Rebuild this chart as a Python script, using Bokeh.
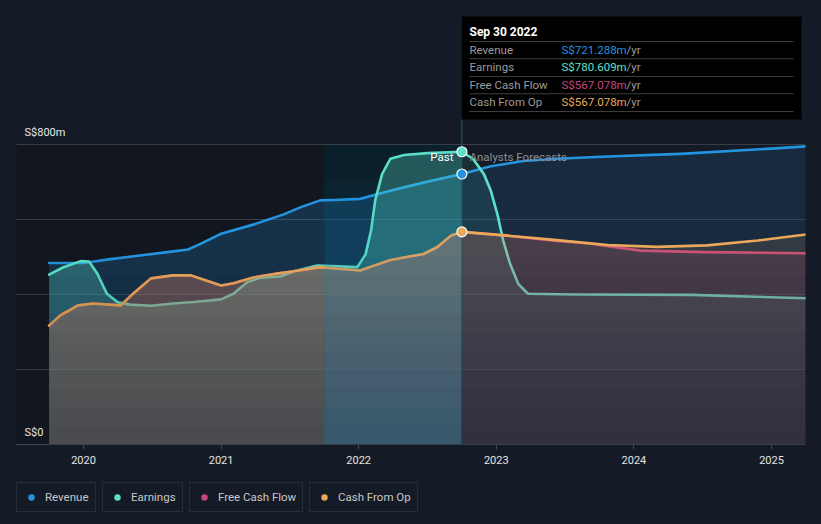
from bokeh.plotting import figure
from bokeh.layouts import column
from bokeh.models import Range1d, FixedTicker, BoxAnnotation, Label, Legend, LegendItem
from bokeh.embed import file_html
from bokeh.resources import INLINE

# ---------------- data (S$ millions, x in decimal years) ----------------
NOW = 2022.75            # Sep 30 2022: last reported point
HIGHLIGHT_START = 2021.75

rev_x = [2019.75, 2020.00, 2020.17, 2020.41, 2020.61, 2020.76, 2020.85, 2021.00, 2021.24,
         2021.45, 2021.58, 2021.72, 2021.82, 2022.01, 2022.16, 2022.30, 2022.50, 2022.75,
         2022.96, 2023.20, 2023.44, 2023.81, 2024.34, 2025.00, 2025.25]
rev_y = [484, 484, 493, 504, 513, 520, 535, 562, 587,
         613, 633, 651, 652, 655, 670, 683, 701, 721.288,
         742, 756, 762, 768, 775, 789, 795]

earn_x = [2019.75, 2019.85, 2019.98, 2020.04, 2020.10, 2020.17, 2020.25, 2020.34, 2020.49,
          2020.65, 2020.80, 2021.00, 2021.09, 2021.19, 2021.29, 2021.43, 2021.53, 2021.70,
          2021.85, 2021.99, 2022.05, 2022.09, 2022.12, 2022.17, 2022.23, 2022.33, 2022.50,
          2022.75, 2022.83, 2022.91, 2022.96, 2023.01, 2023.05, 2023.10, 2023.16, 2023.23,
          2023.56, 2024.41, 2025.25]
earn_y = [453, 472, 489, 488, 456, 402, 379, 373, 370,
          376, 380, 387, 402, 433, 445, 448, 462, 477,
          475, 473, 507, 571, 651, 721, 762, 772, 777,
          780.609, 762, 721, 677, 611, 544, 482, 428, 402,
          400, 399, 390]

cfo_x = [2019.75, 2019.83, 2019.96, 2020.07, 2020.27, 2020.36, 2020.49, 2020.65, 2020.78,
         2020.87, 2021.00, 2021.09, 2021.24, 2021.43, 2021.53, 2021.72, 2022.01, 2022.23,
         2022.47, 2022.57, 2022.67, 2022.75, 2023.08, 2023.44, 2023.81, 2024.17, 2024.53,
         2024.90, 2025.25]
cfo_y = [317, 344, 371, 376, 371, 402, 443, 451, 451,
         440, 424, 430, 446, 457, 462, 473, 464, 492,
         508, 526, 557, 567.078, 557, 545, 532, 527, 531,
         544, 560]

fcf_x = [2019.75, 2019.83, 2019.96, 2020.07, 2020.27, 2020.36, 2020.49, 2020.65, 2020.78,
         2020.87, 2021.00, 2021.09, 2021.24, 2021.43, 2021.53, 2021.72, 2022.01, 2022.23,
         2022.47, 2022.57, 2022.67, 2022.75, 2023.08, 2023.44, 2023.68, 2023.81, 2024.05,
         2024.53, 2025.25]
fcf_y = [317, 344, 371, 376, 371, 402, 443, 451, 451,
         440, 424, 430, 446, 457, 462, 473, 464, 492,
         508, 526, 557, 567.078, 557, 543, 536, 529, 517,
         513, 510]

year_ticks = [2020, 2021, 2022, 2023, 2024, 2025]
year_labels = ["2020", "2021", "2022", "2023", "2024", "2025"]
y_grid = [0, 200, 400, 600, 800]

# ---------------- styling ----------------
BG = "#151b26"
C_REV = "#2394df"
C_EARN = "#5ce1c8"
C_FCF = "#c8467a"
C_CFO = "#eaa95a"
FONT = "Roboto"

W, H_MAIN, H_LEG = 821, 480, 44


def X(px):  # reference screen px -> data x
    return 2020 + (px - 83) / 137.6


def Y(py):  # reference screen px -> data y
    return (444 - py) / 0.375


p = figure(width=W, height=H_MAIN, output_backend="svg", toolbar_location=None,
           x_range=Range1d(X(16), X(805)), y_range=Range1d(0, Y(0)),
           min_border_left=16, min_border_right=16, min_border_top=0,
           min_border_bottom=H_MAIN - 444,
           background_fill_color=BG, border_fill_color=BG, outline_line_color=None)
p.title.visible = False
p.yaxis.visible = False
p.xgrid.visible = False
p.ygrid.ticker = FixedTicker(ticks=y_grid)
p.ygrid.grid_line_color = "#373c47"
p.ygrid.grid_line_width = 1

xa = p.xaxis[0]
xa.ticker = FixedTicker(ticks=year_ticks)
xa.major_label_overrides = {t: l for t, l in zip(year_ticks, year_labels)}
xa.axis_line_color = "#424751"
xa.major_tick_line_color = "#424751"
xa.major_tick_out = 5
xa.major_tick_in = 0
xa.minor_tick_line_color = None
xa.major_label_text_color = "#e4e4e4"
xa.major_label_text_font = FONT
xa.major_label_text_font_size = "11px"
xa.major_label_standoff = 6

# background regions
p.add_layout(BoxAnnotation(right=HIGHLIGHT_START, bottom=0, top=800, fill_color="#12161f",
                           fill_alpha=1, line_color=None, level="image"))
p.add_layout(BoxAnnotation(left=HIGHLIGHT_START, right=NOW, bottom=0, top=800,
                           fill_color="#0c1d27", fill_alpha=1, line_color=None, level="image"))


def split(xs, ys):
    past = [(a, b) for a, b in zip(xs, ys) if a <= NOW]
    fut = [(a, b) for a, b in zip(xs, ys) if a >= NOW]
    return list(zip(*past)), list(zip(*fut))


series = [
    (rev_x, rev_y, C_REV, 0.22, 0.13),
    (earn_x, earn_y, C_EARN, 0.30, 0.10),
    (fcf_x, fcf_y, C_FCF, 0.20, 0.15),
    (cfo_x, cfo_y, C_CFO, 0.23, 0.13),
]
for xs, ys, col, a_past, a_fut in series:
    (px_, py_), (fx_, fy_) = split(xs, ys)
    p.varea(x=list(px_), y1=0, y2=list(py_), fill_color=col, fill_alpha=a_past)
    p.varea(x=list(fx_), y1=0, y2=list(fy_), fill_color=col, fill_alpha=a_fut)
    p.line(xs, ys, line_color=col, line_width=2.6, line_join="round", line_cap="round")

# area fills fade darker towards the baseline
for k in range(1, 11):
    p.add_layout(BoxAnnotation(left=rev_x[0], bottom=0, top=50 * k, fill_color="#0a0d14",
                               fill_alpha=0.036, line_color=None, level="annotation"))

# highlighted last-year band: soft teal wash, stronger towards the bottom
for k in range(1, 9):
    p.add_layout(BoxAnnotation(left=HIGHLIGHT_START, right=NOW, bottom=0, top=100 * k,
                               fill_color="#2896c8", fill_alpha=0.035, line_color=None,
                               level="annotation"))

# divider at "now"
p.segment(x0=[NOW], y0=[0], x1=[NOW], y1=[Y(119)], line_color="#2b5566", line_width=1)

# markers at last reported point
for xs, ys, col in [(rev_x, rev_y, C_REV), (earn_x, earn_y, C_EARN), (cfo_x, cfo_y, C_CFO)]:
    i = xs.index(NOW)
    r = p.scatter([xs[i]], [ys[i]], size=10, fill_color=col, line_color="#ffffff", line_width=1.2)
    r.level = "overlay"

# Past / forecast labels
p.add_layout(Label(x=X(453), y=Y(156), text="Past", text_align="right", text_baseline="middle",
                   text_color="#ffffff", text_font=FONT, text_font_size="11.5px"))
p.add_layout(Label(x=X(469), y=Y(156), text="Analysts Forecasts", text_align="left",
                   text_baseline="middle", text_color="#8a8e96", text_font=FONT,
                   text_font_size="11.5px"))

# y labels inside plot
p.add_layout(Label(x=X(24), y=Y(132), text="S$800m", text_baseline="middle",
                   text_color="#e8e8e8", text_font=FONT, text_font_size="11px"))
p.add_layout(Label(x=X(24), y=Y(432), text="S$0", text_baseline="middle",
                   text_color="#e8e8e8", text_font=FONT, text_font_size="11px", level="overlay"))

# tooltip box
p.add_layout(BoxAnnotation(left=NOW, right=X(801), top=Y(16), bottom=Y(119), fill_color="#000000",
                           fill_alpha=1, line_color=None, level="overlay"))
for yy in [41, 58.3, 76, 93.3, 111]:
    p.add_layout(BoxAnnotation(left=X(469), right=X(793), top=Y(yy - 0.5), bottom=Y(yy + 0.5),
                               fill_color="#3e3e3e", fill_alpha=1, line_color=None, level="overlay"))
p.add_layout(Label(x=X(469), y=Y(31), text="Sep 30 2022", text_baseline="middle",
                   text_color="#ffffff", text_font=FONT, text_font_size="12px",
                   text_font_style="bold", level="overlay"))
rows = [("Revenue", rev_y[rev_x.index(NOW)], C_REV, 49.3),
        ("Earnings", earn_y[earn_x.index(NOW)], C_EARN, 66.7),
        ("Free Cash Flow", fcf_y[fcf_x.index(NOW)], C_FCF, 84.3),
        ("Cash From Op", cfo_y[cfo_x.index(NOW)], C_CFO, 101.7)]
for name, val, col, yy in rows:
    p.add_layout(Label(x=X(469), y=Y(yy), text=name, text_baseline="middle", text_color="#9b9b9b",
                       text_font=FONT, text_font_size="11.5px", level="overlay"))
    p.add_layout(Label(x=X(561), y=Y(yy), text=f"S${val:.3f}m", text_baseline="middle",
                       text_color=col, text_font=FONT, text_font_size="11.5px", level="overlay"))
    p.add_layout(Label(x=X(626), y=Y(yy), text="/yr", text_baseline="middle", text_color="#9b9b9b",
                       text_font=FONT, text_font_size="11.5px", level="overlay"))

# ---------------- legend strip: one bordered box per series ----------------
lf = figure(width=W, height=H_LEG, output_backend="svg", toolbar_location=None,
            x_range=Range1d(0, 1), y_range=Range1d(0, 1),
            x_axis_type=None, y_axis_type=None,
            min_border=0, min_border_left=0, min_border_right=0,
            min_border_top=0, min_border_bottom=0,
            background_fill_color=BG, border_fill_color=BG, outline_line_color=None)
lf.title.visible = False
lf.grid.visible = False

FRAME_LEFT = 16  # the column aligns this strip's frame with the chart's frame
legend_names = ["Revenue", "Earnings", "Free Cash Flow", "Cash From Op"]
legend_colors = [C_REV, C_EARN, C_FCF, C_CFO]
legend_lefts = [16, 102, 189, 309]
for name, col, left in zip(legend_names, legend_colors, legend_lefts):
    # off-range point: only its style is used, for the legend swatch
    r = lf.scatter(x=[-1], y=[-1], size=7, fill_color=col, line_color=None)
    leg = Legend(items=[LegendItem(label=name, renderers=[r])],
                 location=(left - FRAME_LEFT, (H_MAIN + H_LEG) - 512),
                 orientation="horizontal", padding=6, margin=0, spacing=0,
                 glyph_width=16, glyph_height=16, label_height=15, label_standoff=6,
                 label_text_font=FONT, label_text_font_size="11.5px",
                 label_text_color="#c8c8c8", border_line_color="#3c414b",
                 border_line_width=1, background_fill_color=BG, background_fill_alpha=1)
    lf.add_layout(leg, "center")

layout = column(p, lf, spacing=0)
html = file_html(layout, INLINE)
html = html.replace("</head>",
                    "<style>html, body { background-color: #151b26 !important; }</style></head>", 1)
open("out.html", "w").write(html)
